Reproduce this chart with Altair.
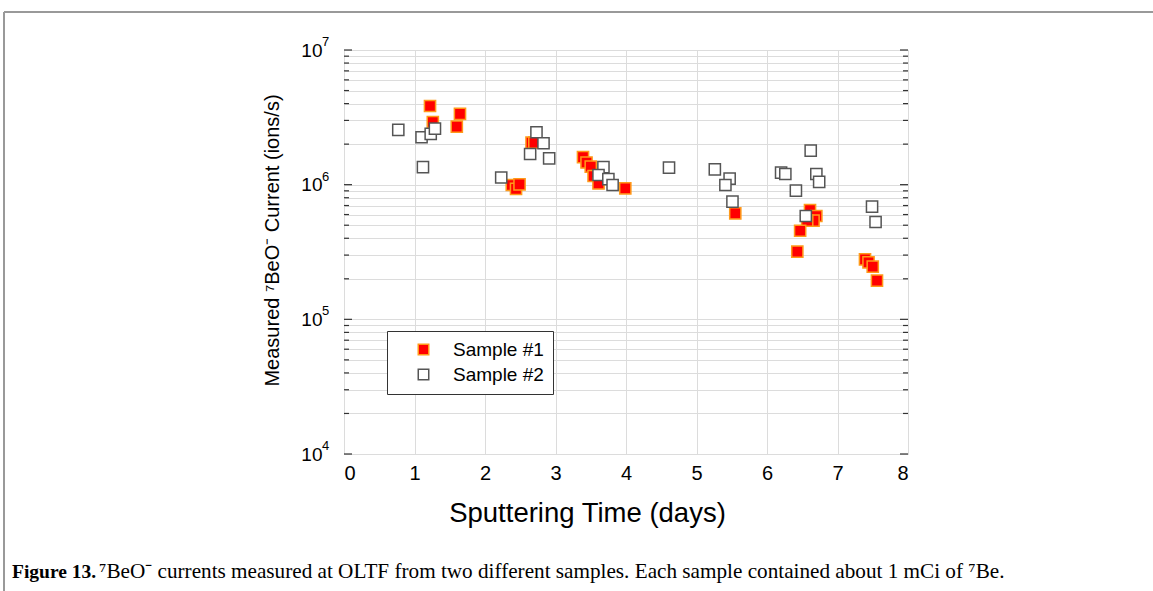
import altair as alt
import pandas as pd

# ---- data ----
s1_days = [1.22, 1.26, 1.60, 1.645, 2.38, 2.44, 2.49, 2.66, 2.70, 3.39, 3.44, 3.50, 3.54, 3.61,
           3.99, 5.55, 6.61, 6.70, 6.66, 6.57, 6.47, 6.43, 7.39, 7.44, 7.50, 7.56]
s1_current = [3.84e6, 2.92e6, 2.70e6, 3.35e6, 0.994e6, 0.93e6, 1.005e6, 2.05e6, 2.05e6, 1.60e6,
              1.46e6, 1.36e6, 1.16e6, 1.02e6, 0.94e6, 6.13e5, 6.48e5, 5.85e5, 5.41e5, 5.41e5,
              4.55e5, 3.18e5, 2.79e5, 2.65e5, 2.46e5, 1.94e5]
s2_days = [0.77, 1.10, 1.23, 1.29, 1.12, 2.23, 2.64, 2.73, 2.83, 2.91, 3.68, 3.61, 3.75, 3.81,
           4.61, 5.26, 5.47, 5.41, 5.51, 6.62, 6.20, 6.26, 6.70, 6.74, 6.41, 6.55, 7.49, 7.54]
s2_current = [2.55e6, 2.25e6, 2.38e6, 2.61e6, 1.35e6, 1.13e6, 1.69e6, 2.45e6, 2.03e6, 1.57e6,
              1.35e6, 1.18e6, 1.10e6, 0.994e6, 1.34e6, 1.30e6, 1.11e6, 0.994e6, 7.48e5, 1.79e6,
              1.23e6, 1.20e6, 1.20e6, 1.05e6, 9.02e5, 5.85e5, 6.87e5, 5.28e5]
series_names = ["Sample #1", "Sample #2"]
x_ticks = [0, 1, 2, 3, 4, 5, 6, 7, 8]
decades = [4, 5, 6, 7]
y_title = "Measured \u2077BeO\u207b Current (ions/s)"
x_title = "Sputtering Time (days)"
caption_bold = "Figure 13."
caption_rest = ("\u2077BeO\u207b currents measured at OLTF from two different samples. "
                "Each sample contained about 1  mCi of \u2077Be.")

W, H = 564, 404
PL, PT = 344, 50

major_vals = [10 ** d for d in decades]
minor_vals = [m * 10 ** d for d in decades[:-1] for m in range(2, 10)]
all_vals = sorted(major_vals + minor_vals)

pts = pd.DataFrame({
    "day": s1_days + s2_days,
    "cur": s1_current + s2_current,
    "sample": [series_names[0]] * len(s1_days) + [series_names[1]] * len(s2_days),
})

xs = alt.Scale(domain=[0, 8], nice=False, zero=False)
ys = alt.Scale(type="log", domain=[1e4, 1e7], nice=False)

leg = alt.Legend(orient="none", legendX=43, legendY=281, title=None,
                 strokeColor="#333", fillColor="white", padding=9,
                 symbolOffset=18, labelOffset=20, labelFontSize=19,
                 labelFont="Liberation Sans", symbolType="square", symbolSize=110,
                 symbolStrokeWidth=1.5, rowPadding=5, labelLimit=300)

label_expr = "indexof([10000,100000,1000000,10000000], datum.value) >= 0 ? '10' : ''"

points = alt.Chart(pts).mark_point(shape="square", filled=True, size=125, strokeWidth=1.5,
                                   opacity=1).encode(
    x=alt.X("day:Q", scale=xs, axis=alt.Axis(values=x_ticks, title=x_title, grid=True,
                                              gridColor="#dcdcdc", ticks=False, domain=False,
                                              labelFontSize=20, labelPadding=9,
                                              labelFont="Liberation Sans",
                                              titleFont="Liberation Sans", titleFontSize=27.5,
                                              titleFontWeight="normal", titlePadding=16,
                                              titleX=243, titleAnchor="middle")),
    y=alt.Y("cur:Q", scale=ys, axis=alt.Axis(values=all_vals, labelExpr=label_expr,
                                              title=y_title, grid=True, gridColor="#dcdcdc",
                                              ticks=False, domain=False, labelFontSize=19,
                                              labelPadding=22, labelFont="Liberation Sans",
                                              titleFont="Liberation Sans", titleFontSize=20,
                                              titleFontWeight="normal", titleX=-72, titleY=190,
                                              titleAngle=270, titleAlign="center",
                                              titleBaseline="middle")),
    fill=alt.Fill("sample:N", scale=alt.Scale(domain=series_names, range=["#ff0000", "#ffffff"]),
                  legend=leg),
    stroke=alt.Stroke("sample:N", scale=alt.Scale(domain=series_names,
                                                  range=["#ff9a1a", "#555555"]), legend=leg),
)

major_df = pd.DataFrame({"v": major_vals})
minor_df = pd.DataFrame({"v": minor_vals})
exp_df = pd.DataFrame({"v": major_vals, "e": [str(d) for d in decades]})

def tick_layer(df, x0, x1):
    return alt.Chart(df).mark_rule(color="#333", strokeWidth=1.2).encode(
        y=alt.Y("v:Q", scale=ys), x=alt.value(x0), x2=alt.value(x1))

ticks = (tick_layer(major_df, 0, 8) + tick_layer(minor_df, 0, 5) +
         tick_layer(major_df, W - 8, W) + tick_layer(minor_df, W - 5, W))

exps = alt.Chart(exp_df).mark_text(align="left", baseline="middle", fontSize=13,
                                   font="Liberation Sans", dy=-8).encode(
    y=alt.Y("v:Q", scale=ys), x=alt.value(-22), text="e:N")

one = pd.DataFrame({"a": [0]})
frame_top = alt.Chart(one).mark_rule(color="#999999", strokeWidth=2).encode(
    x=alt.value(4 - PL), x2=alt.value(1153 - PL), y=alt.value(12 - PT))
frame_left = alt.Chart(one).mark_rule(color="#999999", strokeWidth=2).encode(
    x=alt.value(4 - PL), y=alt.value(12 - PT), y2=alt.value(591 - PT))

cap_df = pd.DataFrame({"b": [caption_bold], "r": [caption_rest]})
cap_b = alt.Chart(cap_df).mark_text(align="left", baseline="alphabetic", fontSize=19.5,
                                    font="Liberation Serif", fontWeight="bold").encode(
    x=alt.value(12 - PL), y=alt.value(578 - PT), text="b:N")
cap_r = alt.Chart(cap_df).mark_text(align="left", baseline="alphabetic", fontSize=21.2,
                                    font="Liberation Serif").encode(
    x=alt.value(99 - PL), y=alt.value(578 - PT), text="r:N")

chart = alt.layer(ticks, exps, points, frame_top, frame_left, cap_b, cap_r).properties(
    width=W, height=H,
    padding={"left": PL, "top": PT, "right": 1153 - PL - W, "bottom": 591 - PT - H},
    autosize=alt.AutoSizeParams(type="none"),
).configure_view(stroke="#333333", strokeWidth=1.5).configure(background="white")

chart.save("out.html", embed_options={"renderer": "svg", "actions": False})
